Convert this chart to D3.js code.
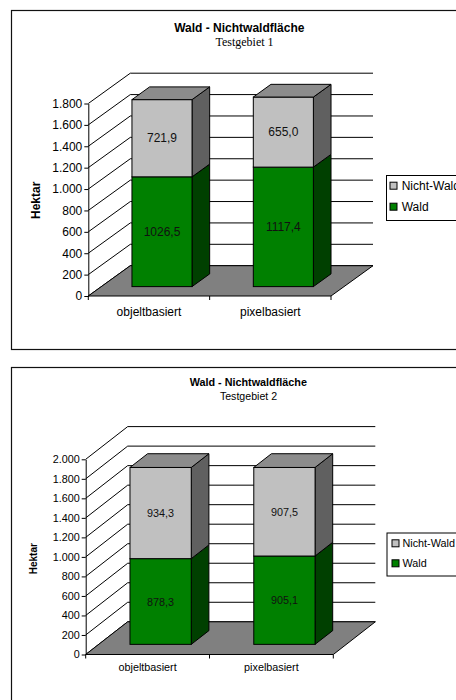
<!DOCTYPE html>
<html>
<head>
<meta charset="utf-8">
<script src="https://cdn.jsdelivr.net/npm/d3@7"></script>
<style>
  html, body { margin: 0; padding: 0; background: #fff; }
  svg { display: block; }
</style>
</head>
<body>
<svg id="chart" width="456" height="700"></svg>
<script>
// ---- data ----
const categories = ["objeltbasiert", "pixelbasiert"];
const seriesNames = ["Wald", "Nicht-Wald"];
const wald1 = [1026.5, 1117.4];
const nichtWald1 = [721.9, 655.0];
const wald2 = [878.3, 905.1];
const nichtWald2 = [934.3, 907.5];
const yTicks1 = [0, 200, 400, 600, 800, 1000, 1200, 1400, 1600, 1800];
const yTicks2 = [0, 200, 400, 600, 800, 1000, 1200, 1400, 1600, 1800, 2000];
const titles = ["Wald - Nichtwaldfläche", "Wald - Nichtwaldfläche"];
const subtitles = ["Testgebiet 1", "Testgebiet 2"];
const yAxisTitle = "Hektar";
const legendOrder = ["Nicht-Wald", "Wald"];

// German number formats: 1.800 for ticks, 1026,5 for values
const de = d3.formatLocale({ decimal: ",", thousands: ".", grouping: [3], currency: ["", " €"] });
const fmtTick = de.format(",");
const fmtVal = de.format(".1f");

const SANS = "'Liberation Sans', Arial, sans-serif";
const SERIF = "'Liberation Serif', 'Times New Roman', serif";

const colors = {
  "Wald": { front: "#008000", side: "#004000" },
  "Nicht-Wald": { front: "#c0c0c0", side: "#606060" }
};
const topColor = "#8c8c8c";
const floorColor = "#808080";

// depth of the bar block inside the floor (fractions of the floor depth)
const F0 = 0.31, F1 = 0.73;
const BAR_FRAC = 0.495;

const panels = [
  {
    wald: wald1, nicht: nichtWald1, ticks: yTicks1, yMax: 1800,
    title: titles[0], subtitle: subtitles[0],
    frame: { x: 11.5, y: 10.5, w: 470, h: 339 },
    x0: 88.3, x1: 331, y0: 296, yTop: 103.5, dx: 42, dy: -30.3,
    font: 12, titleSize: 12, subFamily: SERIF, subSize: 12,
    titleX: 239.3, titleY: 32, subX: 244.5, subY: 46,
    hekX: 35.7, hekY: 200.3, hekSize: 12, catY: 316,
    legend: { x: 386.5, y: 175.5, w: 90, h: 45, sw: 390, tx: 401.7, rows: [185.7, 206.7] }
  },
  {
    wald: wald2, nicht: nichtWald2, ticks: yTicks2, yMax: 2000,
    title: titles[1], subtitle: subtitles[1],
    frame: { x: 11.5, y: 367.5, w: 470, h: 400 },
    x0: 85.7, x1: 333.3, y0: 654.5, yTop: 459.3, dx: 42, dy: -32.7,
    font: 10.8, titleSize: 10.8, subFamily: SANS, subSize: 10.6,
    titleX: 248.3, titleY: 386.2, subX: 248.5, subY: 399.5,
    hekX: 33.3, hekY: 558.7, hekSize: 10, catY: 670.5,
    legend: { x: 387, y: 533, w: 90, h: 43, sw: 392, tx: 402.5, rows: [543.3, 563.3] }
  }
];

const svg = d3.select("#chart");

function drawPanel(p) {
  const g = svg.append("g");

  // outer frame
  g.append("rect")
    .attr("x", p.frame.x).attr("y", p.frame.y)
    .attr("width", p.frame.w).attr("height", p.frame.h)
    .attr("fill", "#fff").attr("stroke", "#111").attr("stroke-width", 1.2);

  const y = d3.scaleLinear().domain([0, p.yMax]).range([p.y0, p.yTop]);
  const x = d3.scaleBand().domain(categories).range([p.x0, p.x1]);

  // side wall diagonals and back wall gridlines
  const walls = g.append("g").attr("stroke", "#000").attr("stroke-width", 1).attr("fill", "none");
  walls.selectAll("line.diag").data(p.ticks).join("line").attr("class", "diag")
    .attr("x1", p.x0).attr("y1", d => y(d))
    .attr("x2", p.x0 + p.dx).attr("y2", d => y(d) + p.dy);
  walls.selectAll("line.grid").data(p.ticks).join("line").attr("class", "grid")
    .attr("x1", p.x0 + p.dx).attr("y1", d => y(d) + p.dy)
    .attr("x2", p.x1 + p.dx).attr("y2", d => y(d) + p.dy);

  // floor
  g.append("path")
    .attr("d", `M${p.x0},${p.y0}L${p.x1},${p.y0}L${p.x1 + p.dx},${p.y0 + p.dy}L${p.x0 + p.dx},${p.y0 + p.dy}Z`)
    .attr("fill", floorColor).attr("stroke", "#000").attr("stroke-width", 1);

  // stacked 3D bars
  const rows = categories.map((c, i) => ({ cat: c, "Wald": p.wald[i], "Nicht-Wald": p.nicht[i] }));
  const stacked = d3.stack().keys(seriesNames)(rows);
  const fx = p.dx * F0, fy = p.dy * F0;
  const sx = p.dx * (F1 - F0), sy = p.dy * (F1 - F0);
  const bw = x.bandwidth() * BAR_FRAC;

  const bars = g.append("g").attr("stroke", "#000").attr("stroke-width", 1);
  const labels = [];
  categories.forEach((cat, i) => {
    const xl = x(cat) + (x.bandwidth() - bw) / 2 + fx;
    const xr = xl + bw;
    let topY = null;
    stacked.forEach(layer => {
      const seg = layer[i];
      const yb = y(seg[0]) + fy, yt = y(seg[1]) + fy;
      const c = colors[layer.key];
      bars.append("path")
        .attr("d", `M${xr},${yb}L${xr},${yt}L${xr + sx},${yt + sy}L${xr + sx},${yb + sy}Z`)
        .attr("fill", c.side);
      bars.append("rect")
        .attr("x", xl).attr("y", yt).attr("width", bw).attr("height", yb - yt)
        .attr("fill", c.front);
      labels.push({ x: (xl + xr) / 2, y: (yb + yt) / 2, v: seg[1] - seg[0] });
      topY = yt;
    });
    bars.append("path")
      .attr("d", `M${xl},${topY}L${xr},${topY}L${xr + sx},${topY + sy}L${xl + sx},${topY + sy}Z`)
      .attr("fill", topColor);
  });

  // value labels
  g.append("g").selectAll("text").data(labels).join("text")
    .attr("x", d => d.x).attr("y", d => d.y)
    .attr("text-anchor", "middle").attr("dominant-baseline", "central")
    .attr("font-family", SANS).attr("font-size", p.font).attr("fill", "#111")
    .text(d => fmtVal(d.v));

  // value axis
  const ya = g.append("g").attr("transform", `translate(${p.x0},0)`)
    .call(d3.axisLeft(y).tickValues(p.ticks).tickFormat(fmtTick).tickSize(4).tickSizeOuter(0).tickPadding(2));
  ya.select(".domain").attr("stroke", "#000");
  ya.selectAll(".tick line").attr("stroke", "#000");
  ya.selectAll("text").attr("font-family", SANS).attr("font-size", p.font).attr("fill", "#000");

  // category axis: labels centred in each band, ticks on the band edges
  const xa = g.append("g").attr("transform", `translate(0,${p.y0})`)
    .call(d3.axisBottom(x).tickSize(0).tickPadding(p.catY - p.y0 - 0.71 * p.font));
  xa.select(".domain").remove();
  xa.selectAll("text").attr("font-family", SANS).attr("font-size", p.font).attr("fill", "#000");
  const edges = d3.range(categories.length + 1).map(k => p.x0 + k * x.step());
  g.append("g").selectAll("line").data(edges).join("line")
    .attr("x1", d => d).attr("x2", d => d).attr("y1", p.y0).attr("y2", p.y0 + 4)
    .attr("stroke", "#000");

  // titles
  g.append("text").attr("x", p.titleX).attr("y", p.titleY)
    .attr("text-anchor", "middle").attr("font-family", SANS).attr("font-weight", "bold")
    .attr("font-size", p.titleSize).attr("fill", "#000").text(p.title);
  g.append("text").attr("x", p.subX).attr("y", p.subY)
    .attr("text-anchor", "middle").attr("font-family", p.subFamily)
    .attr("font-size", p.subSize).attr("fill", "#000").text(p.subtitle);
  g.append("text")
    .attr("transform", `translate(${p.hekX},${p.hekY}) rotate(-90)`)
    .attr("text-anchor", "middle").attr("dominant-baseline", "central")
    .attr("font-family", SANS).attr("font-weight", "bold").attr("font-size", p.hekSize)
    .attr("fill", "#000").text(yAxisTitle);

  // legend
  const L = p.legend;
  const lg = g.append("g");
  lg.append("rect").attr("x", L.x).attr("y", L.y).attr("width", L.w).attr("height", L.h)
    .attr("fill", "#fff").attr("stroke", "#000").attr("stroke-width", 1);
  legendOrder.forEach((name, k) => {
    lg.append("rect").attr("x", L.sw).attr("y", L.rows[k] - 3.5).attr("width", 7).attr("height", 7)
      .attr("fill", colors[name].front).attr("stroke", "#000").attr("stroke-width", 1);
    lg.append("text").attr("x", L.tx).attr("y", L.rows[k])
      .attr("dominant-baseline", "central").attr("font-family", SANS)
      .attr("font-size", p.font).attr("fill", "#000").text(name);
  });
}

panels.forEach(drawPanel);
</script>
</body>
</html>
